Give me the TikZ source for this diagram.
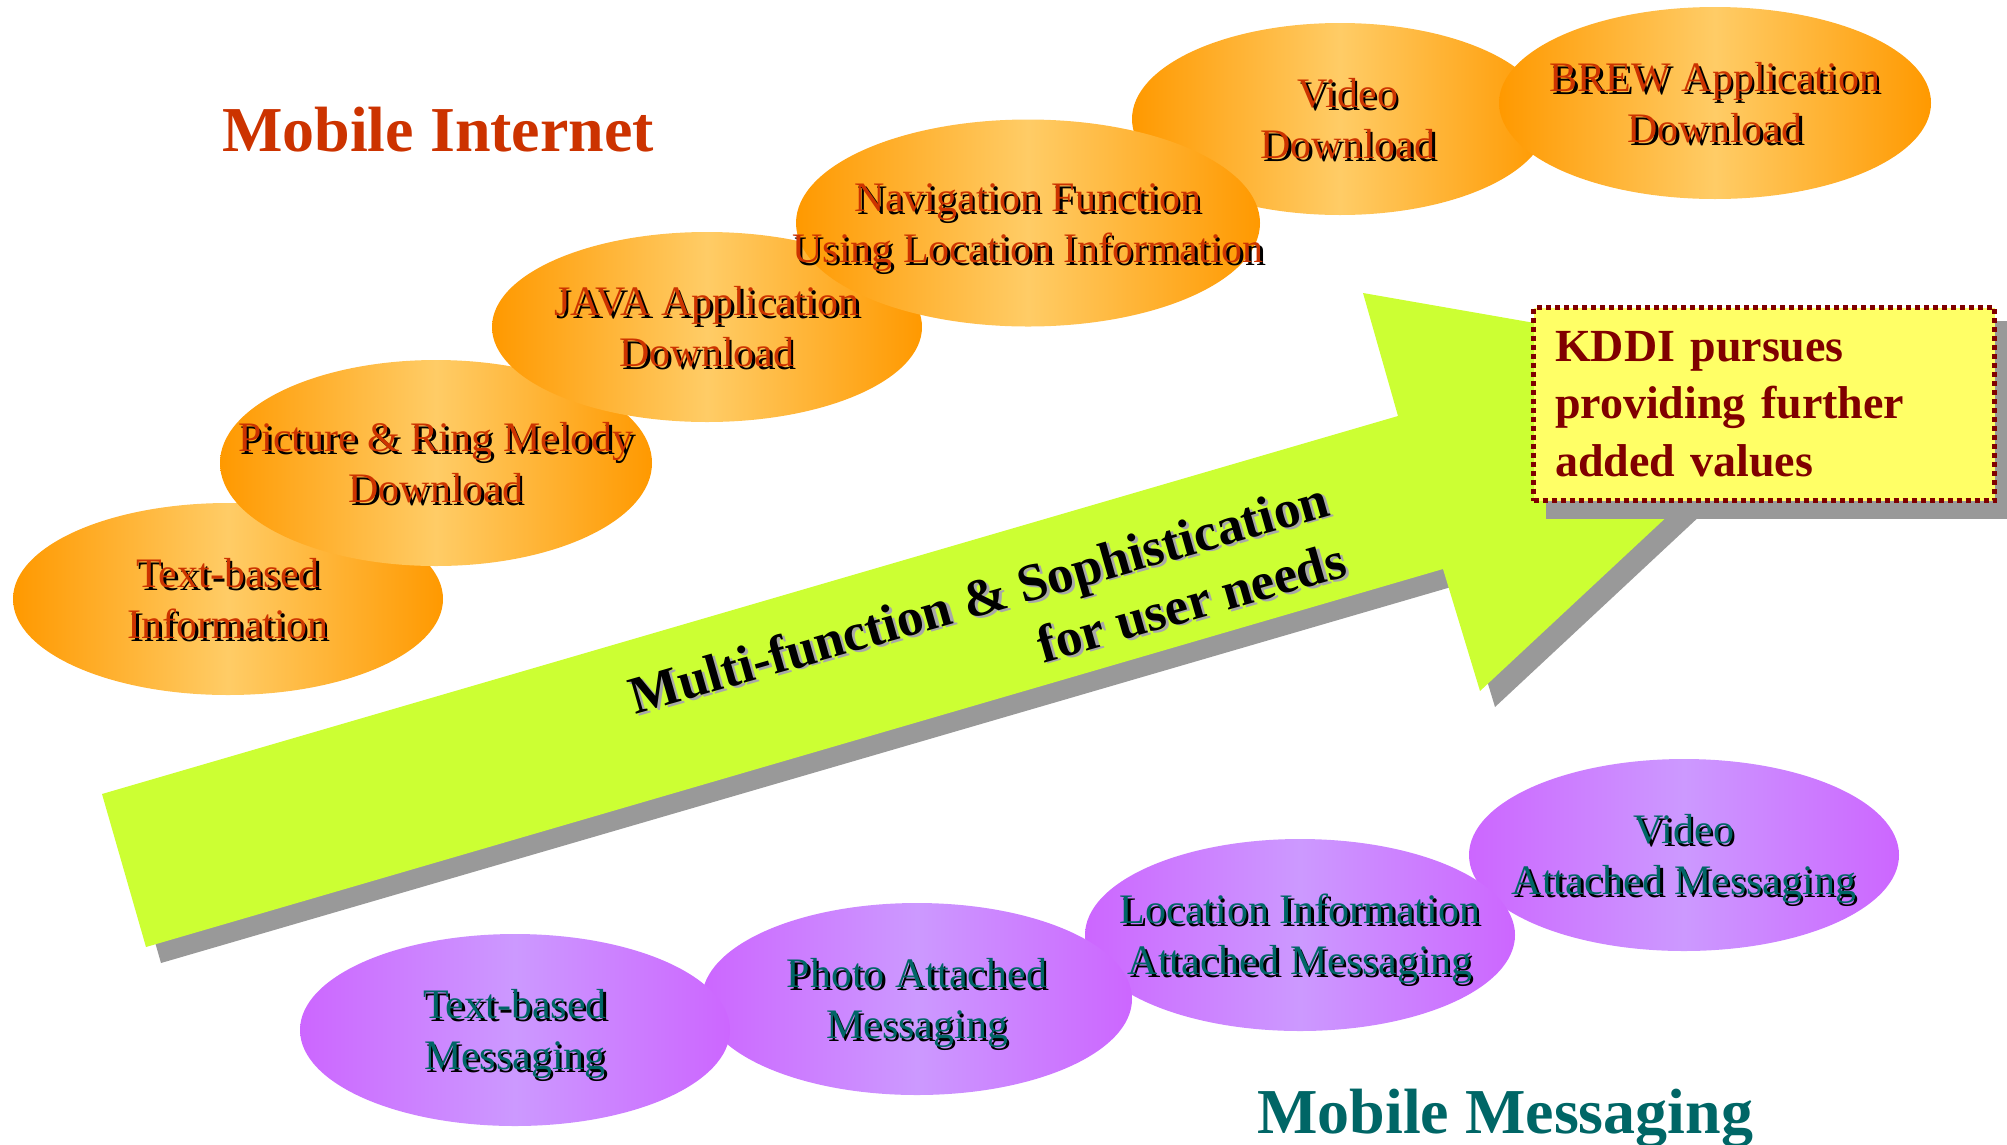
\documentclass[tikz,border=0pt]{standalone}
\usepackage{fontspec}
\setmainfont{Liberation Serif}
\usetikzlibrary{shapes.geometric}

\definecolor{inetred}{HTML}{CC3300}
\definecolor{msgteal}{HTML}{006666}
\definecolor{orangeedge}{HTML}{FF9900}
\definecolor{orangemid}{HTML}{FFCC66}
\definecolor{violetedge}{HTML}{CC66FF}
\definecolor{violetmid}{HTML}{CC99FF}
\definecolor{arrowgreen}{HTML}{CCFF33}
\definecolor{shadowgray}{HTML}{999999}
\definecolor{textshade}{HTML}{A8A8A8}
\definecolor{boxyellow}{HTML}{FFFF66}
\definecolor{boxred}{HTML}{800000}

% text with a dark offset copy behind it
\newcommand{\shtext}[4][c]{%
  \makebox[0pt][l]{\raisebox{-2.5pt}[0pt][0pt]{\hspace*{2.5pt}\textcolor{#3}{\begin{tabular}[t]{@{}#1@{}}#4\end{tabular}}}}%
  \textcolor{#2}{\begin{tabular}[t]{@{}#1@{}}#4\end{tabular}}}

\newcommand{\growtharrow}{(102,794) -- (1398,416) -- (1363,293) -- (1821,373) -- (1480,691) -- (1443,569) -- (146,947) -- cycle}

\tikzset{
  orangeblob/.style={ellipse, inner sep=0pt, minimum width=430pt, minimum height=192pt,
    left color=orangeedge, right color=orangeedge, middle color=orangemid},
  violetblob/.style={ellipse, inner sep=0pt, minimum width=430pt, minimum height=192pt,
    left color=violetedge, right color=violetedge, middle color=violetmid},
  blobtext/.style={inner sep=0pt, yshift=-4pt, font=\fontsize{42}{51}\selectfont},
  heading/.style={anchor=base west, inner sep=0pt, font=\fontsize{64}{77}\selectfont\bfseries},
  valuebox/.style={draw=boxred, line width=5pt, dash pattern=on 5pt off 4pt, fill=boxyellow,
    minimum width=461pt, minimum height=193pt, text width=418pt, align=left, text=boxred,
    font=\fontsize{46}{57.5}\selectfont\bfseries}
}

\begin{document}
\begin{tikzpicture}[x=1pt, y=-1pt]
\useasboundingbox (0,0) rectangle (2007,1144);

% big arrow
\fill[shadowgray, shift={(15,16)}] \growtharrow;
\fill[arrowgreen] \growtharrow;
\node[rotate=16, anchor=base east, inner sep=0pt, font=\fontsize{53}{63}\selectfont\bfseries] (needs) at (1332,515)
  {\shtext[r]{black}{textshade}{Multi-function \& Sophistication\\for user needs}};

% added value box
\fill[shadowgray] (1546,321) rectangle (2012,519);
\node[valuebox] (kddi) at (1764,404) {KDDI pursues\\providing further\\added values};

% mobile internet
\node[orangeblob] (txtinfo) at (228,599) {};
\node[orangeblob, minimum width=432pt, minimum height=206pt] (ringmelody) at (436,463) {};
\node[orangeblob, minimum height=190pt] (java) at (707,327) {};
\node[orangeblob, minimum width=416pt] (videodl) at (1340,119) {};
\node[orangeblob, minimum width=432pt] (brew) at (1715,103) {};
\node[orangeblob, minimum width=464pt, minimum height=207pt] (navi) at (1028,223) {};

\node[blobtext] (txtinfolbl) at (txtinfo) {\shtext{inetred}{black}{Text-based\\Information}};
\node[blobtext] (ringmelodylbl) at (ringmelody) {\shtext{inetred}{black}{Picture \& Ring Melody\\Download}};
\node[blobtext] (javalbl) at (java) {\shtext{inetred}{black}{JAVA Application\\Download}};
\node[blobtext] (navilbl) at (navi) {\shtext{inetred}{black}{Navigation Function\\Using Location Information}};
\node[blobtext, xshift=8pt] (videodllbl) at (videodl) {\shtext{inetred}{black}{Video\\Download}};
\node[blobtext] (brewlbl) at (brew) {\shtext{inetred}{black}{BREW Application\\Download}};

% mobile messaging
\node[violetblob] (videomsg) at (1684,855) {};
\node[violetblob] (locmsg) at (1300,935) {};
\node[violetblob] (photomsg) at (917,999) {};
\node[violetblob] (txtmsg) at (515,1030) {};

\node[blobtext] (txtmsglbl) at (txtmsg) {\shtext{msgteal}{black}{Text-based\\Messaging}};
\node[blobtext] (photomsglbl) at (photomsg) {\shtext{msgteal}{black}{Photo Attached\\Messaging}};
\node[blobtext] (locmsglbl) at (locmsg) {\shtext{msgteal}{black}{Location Information\\Attached Messaging}};
\node[blobtext] (videomsglbl) at (videomsg) {\shtext{msgteal}{black}{Video\\Attached Messaging}};

% headings
\node[heading, text=inetred] (internet) at (222,151) {Mobile Internet};
\node[heading, text=msgteal] (messaging) at (1257,1133) {Mobile Messaging};
\end{tikzpicture}
\end{document}
